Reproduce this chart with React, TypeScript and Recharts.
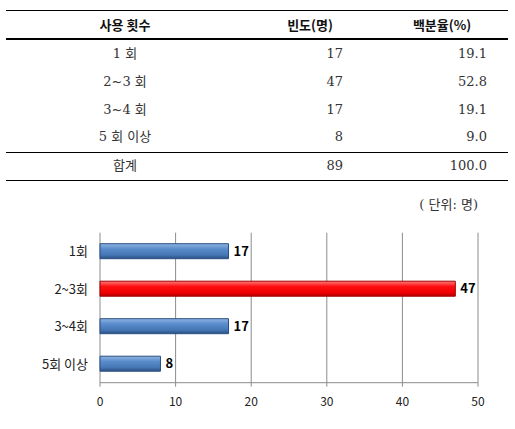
import React from "react";
import { BarChart, Bar, XAxis, YAxis, CartesianGrid, LabelList, Cell } from "recharts";

const tableCategories = ["1 회", "2~3 회", "3~4 회", "5 회 이상"];
const chartCategories = ["1회", "2~3회", "3~4회", "5회 이상"];
const counts = [17, 47, 17, 8];
const percents = ["19.1", "52.8", "19.1", "9.0"];
const totalLabel = "합계";
const totalCount = 89;
const totalPercent = "100.0";
const headers = ["사용 횟수", "빈도(명)", "백분율(%)"];
const unitLabel = "( 단위: 명)";
const xTicks = [0, 10, 20, 30, 40, 50];
const boundaryTicks = [0, 1, 2, 3, 4];

const data = chartCategories.map((c, i) => ({ name: c, value: counts[i] }));
const maxVal = Math.max(...counts);

const serif = "'DejaVu Serif', 'Noto Sans CJK KR', serif";
const sans = "'Noto Sans CJK KR', sans-serif";

const rowY = [54, 82, 110, 137];

function Cell3({ y, c1, c2, c3, color = "#333", bold = false, font = serif }: any) {
  const base: React.CSSProperties = {
    position: "absolute",
    top: y - 9,
    height: 18,
    lineHeight: "18px",
    fontSize: 13,
    fontFamily: font,
    color,
    fontWeight: bold ? "bold" : "normal",
    whiteSpace: "nowrap",
  };
  return (
    <>
      <div style={{ ...base, left: 25, width: 200, textAlign: "center" }}>{c1}</div>
      {bold ? (
        <>
          <div style={{ ...base, left: 250, width: 120, textAlign: "center" }}>{c2}</div>
          <div style={{ ...base, left: 382, width: 120, textAlign: "center" }}>{c3}</div>
        </>
      ) : (
        <>
          <div style={{ ...base, left: 243, width: 100, textAlign: "right" }}>{c2}</div>
          <div style={{ ...base, left: 387, width: 100, textAlign: "right" }}>{c3}</div>
        </>
      )}
    </>
  );
}

const Line = ({ y, h = 1 }: any) => (
  <div style={{ position: "absolute", left: 6, width: 502, top: y, height: h, background: "#000" }} />
);

export default function App() {
  return (
    <div style={{ position: "absolute", left: 0, top: 0, width: 515, height: 429, background: "#fff", overflow: "hidden" }}>
      <Line y={10} />
      <Cell3 y={25} c1={headers[0]} c2={headers[1]} c3={headers[2]} color="#111" bold font={sans} />
      <Line y={38} h={2} />
      {tableCategories.map((c, i) => (
        <Cell3 key={c} y={rowY[i]} c1={c} c2={counts[i]} c3={percents[i]} />
      ))}
      <Line y={152} />
      <Cell3 y={166} c1={totalLabel} c2={totalCount} c3={totalPercent} />
      <Line y={180} />
      <div
        style={{
          position: "absolute",
          left: 380,
          width: 98,
          top: 196,
          height: 18,
          lineHeight: "18px",
          textAlign: "right",
          fontSize: 13,
          fontFamily: serif,
          color: "#333",
          whiteSpace: "nowrap",
        }}
      >
        {unitLabel}
      </div>
      <div style={{ position: "absolute", left: 0, top: 200 }}>
        <BarChart
          width={515}
          height={220}
          layout="vertical"
          data={data}
          margin={{ top: 32.7, right: 37, bottom: 7.3, left: 8 }}
          barCategoryGap={0}
        >
          <defs>
            <linearGradient id="blueG" x1="0" y1="0" x2="0" y2="1">
              <stop offset="0%" stopColor="#8fb4e3" />
              <stop offset="35%" stopColor="#5a8ccc" />
              <stop offset="75%" stopColor="#4676b4" />
              <stop offset="100%" stopColor="#2b5185" />
            </linearGradient>
            <linearGradient id="redG" x1="0" y1="0" x2="0" y2="1">
              <stop offset="0%" stopColor="#ff7a7a" />
              <stop offset="35%" stopColor="#ff1010" />
              <stop offset="75%" stopColor="#f00000" />
              <stop offset="100%" stopColor="#b80000" />
            </linearGradient>
          </defs>
          <CartesianGrid horizontal={false} stroke="#8c8c8c" />
          <XAxis
            type="number"
            domain={[0, 50]}
            ticks={xTicks}
            interval={0}
            axisLine={{ stroke: "#8c8c8c" }}
            tickLine={{ stroke: "#8c8c8c" }}
            tickSize={4}
            height={30}
            tick={{ fill: "#222", fontSize: 12, fontFamily: sans, dy: 9 }}
          />
          <YAxis
            yAxisId="grid"
            type="number"
            domain={[0, 4]}
            ticks={boundaryTicks}
            tick={false}
            width={0}
            tickSize={4}
            axisLine={{ stroke: "#8c8c8c" }}
            tickLine={{ stroke: "#8c8c8c" }}
          />
          <YAxis
            yAxisId="cat"
            type="category"
            dataKey="name"
            width={92}
            axisLine={false}
            tickLine={false}
            tick={{ fill: "#222", fontSize: 13, fontFamily: sans }}
            tickMargin={6}
          />
          <Bar yAxisId="cat" dataKey="value" barSize={15} isAnimationActive={false} strokeWidth={1}>
            {data.map((d) => (
              <Cell
                key={d.name}
                fill={d.value === maxVal ? "url(#redG)" : "url(#blueG)"}
                stroke={d.value === maxVal ? "#a00000" : "#2a4f80"}
              />
            ))}
            <LabelList
              dataKey="value"
              position="right"
              offset={5}
              style={{ fill: "#000", fontWeight: "bold", fontSize: 13, fontFamily: sans }}
            />
          </Bar>
        </BarChart>
      </div>
    </div>
  );
}
